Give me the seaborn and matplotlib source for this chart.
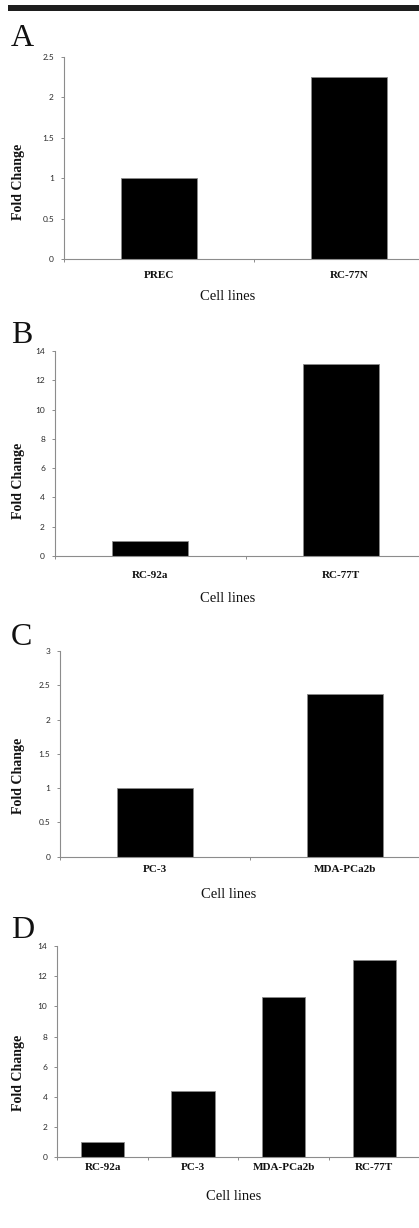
import matplotlib
matplotlib.use("Agg")
import matplotlib.pyplot as plt
from matplotlib.patches import Rectangle
import seaborn as sns
import pandas as pd

# ---------------- data ----------------
cats_a = ["PREC", "RC-77N"]
vals_a = [1.0, 2.25]
yticks_a = [0, 0.5, 1, 1.5, 2, 2.5]
ylabels_a = ["0", "0.5", "1", "1.5", "2", "2.5"]

cats_b = ["RC-92a", "RC-77T"]
vals_b = [1.0, 13.1]
yticks_b = [0, 2, 4, 6, 8, 10, 12, 14]
ylabels_b = ["0", "2", "4", "6", "8", "10", "12", "14"]

cats_c = ["PC-3", "MDA-PCa2b"]
vals_c = [1.0, 2.38]
yticks_c = [0, 0.5, 1, 1.5, 2, 2.5, 3]
ylabels_c = ["0", "0.5", "1", "1.5", "2", "2.5", "3"]

cats_d = ["RC-92a", "PC-3", "MDA-PCa2b", "RC-77T"]
vals_d = [1.0, 4.4, 10.6, 13.1]
yticks_d = [0, 2, 4, 6, 8, 10, 12, 14]
ylabels_d = ["0", "2", "4", "6", "8", "10", "12", "14"]

panel_letters = ["A", "B", "C", "D"]
y_title = "Fold Change"
x_title = "Cell lines"

# ---------------- style / layout ----------------
sns.set_theme(style="white")
plt.rcParams["font.family"] = ["DejaVu Sans"]

W, H = 419, 1228
fig = plt.figure(figsize=(W / 100, H / 100), dpi=100)
fig.patch.set_facecolor("white")

def fx(x):
    return x / W

def fy(y):
    return 1 - y / H

# top black rule
fig.add_artist(Rectangle((fx(8), fy(11)), fx(419) - fx(8), (11 - 5) / H,
                         transform=fig.transFigure, facecolor="#1e1e1e",
                         edgecolor="none"))

layout = [
    dict(rect=(64, 57, 444, 259), letter=(11, 46), ylab=(19, 182), xlab=(228, 297), gap=12.5, width=0.4),
    dict(rect=(55, 351, 436, 556), letter=(11, 343), ylab=(18.5, 481), xlab=(228, 598), gap=15.5, width=0.4),
    dict(rect=(60.4, 651, 439.6, 856.7), letter=(11, 645), ylab=(18.5, 776), xlab=(229, 895), gap=8.3, width=0.4),
    dict(rect=(57.3, 946, 419.6, 1157.3), letter=(11, 938), ylab=(19, 1073), xlab=(234, 1196), gap=5.7, width=0.48),
]

datasets = [
    (cats_a, vals_a, yticks_a, ylabels_a),
    (cats_b, vals_b, yticks_b, ylabels_b),
    (cats_c, vals_c, yticks_c, ylabels_c),
    (cats_d, vals_d, yticks_d, ylabels_d),
]

spine_col = "#8c8c8c"
serif = ["Liberation Serif", "DejaVu Serif"]

for (cats, vals, yt, yl), lay, letter in zip(datasets, layout, panel_letters):
    l, t, r, b = lay["rect"]
    ax = fig.add_axes([fx(l), fy(b), (r - l) / W, (b - t) / H])
    df = pd.DataFrame({"cell": cats, "fold": vals})
    sns.barplot(data=df, x="cell", y="fold", ax=ax, color="black",
                saturation=1, width=lay["width"], edgecolor="#8a8a8a",
                linewidth=0.6, order=cats)
    n = len(cats)
    ax.set_xlim(-0.5, n - 0.5)
    ax.set_ylim(yt[0], yt[-1])
    ax.set_yticks(yt)
    ax.set_yticklabels(yl)
    ax.set_xticks(range(n))
    ax.set_xticklabels(cats)
    ax.set_xticks([i - 0.5 for i in range(n + 1)], minor=True)

    for s in ["top", "right"]:
        ax.spines[s].set_visible(False)
    for s in ["left", "bottom"]:
        ax.spines[s].set_color(spine_col)
        ax.spines[s].set_linewidth(0.8)

    ax.tick_params(axis="y", which="major", direction="out", length=2.2,
                   width=0.7, color=spine_col, pad=5.0, labelsize=6,
                   labelcolor="#2a2a2a", left=True)
    for lab in ax.get_yticklabels():
        lab.set_family(["Lato", "DejaVu Sans"])
    ax.tick_params(axis="x", which="major", length=0, pad=lay["gap"] * 0.72,
                   labelsize=8, labelcolor="#111111", bottom=True)
    ax.tick_params(axis="x", which="minor", direction="out", length=2.2,
                   width=0.7, color=spine_col, bottom=True)
    for lab in ax.get_xticklabels():
        lab.set_family(serif)
        lab.set_fontweight("bold")

    ax.set_ylabel(y_title, fontsize=10, fontweight="bold", family=serif,
                  color="#111111", va="center")
    ax.yaxis.set_label_coords(fx(lay["ylab"][0]), fy(lay["ylab"][1]),
                              transform=fig.transFigure)
    ax.set_xlabel(x_title, fontsize=10.5, family=serif, color="#111111",
                  va="center")
    ax.xaxis.set_label_coords(fx(lay["xlab"][0]), fy(lay["xlab"][1]),
                              transform=fig.transFigure)
    ax.grid(False)
    ax.set_facecolor("white")

    fig.text(fx(lay["letter"][0]), fy(lay["letter"][1]), letter,
             fontsize=23, family=serif, color="#111111",
             ha="left", va="baseline")

fig.savefig("out.png", dpi=100, facecolor="white")
